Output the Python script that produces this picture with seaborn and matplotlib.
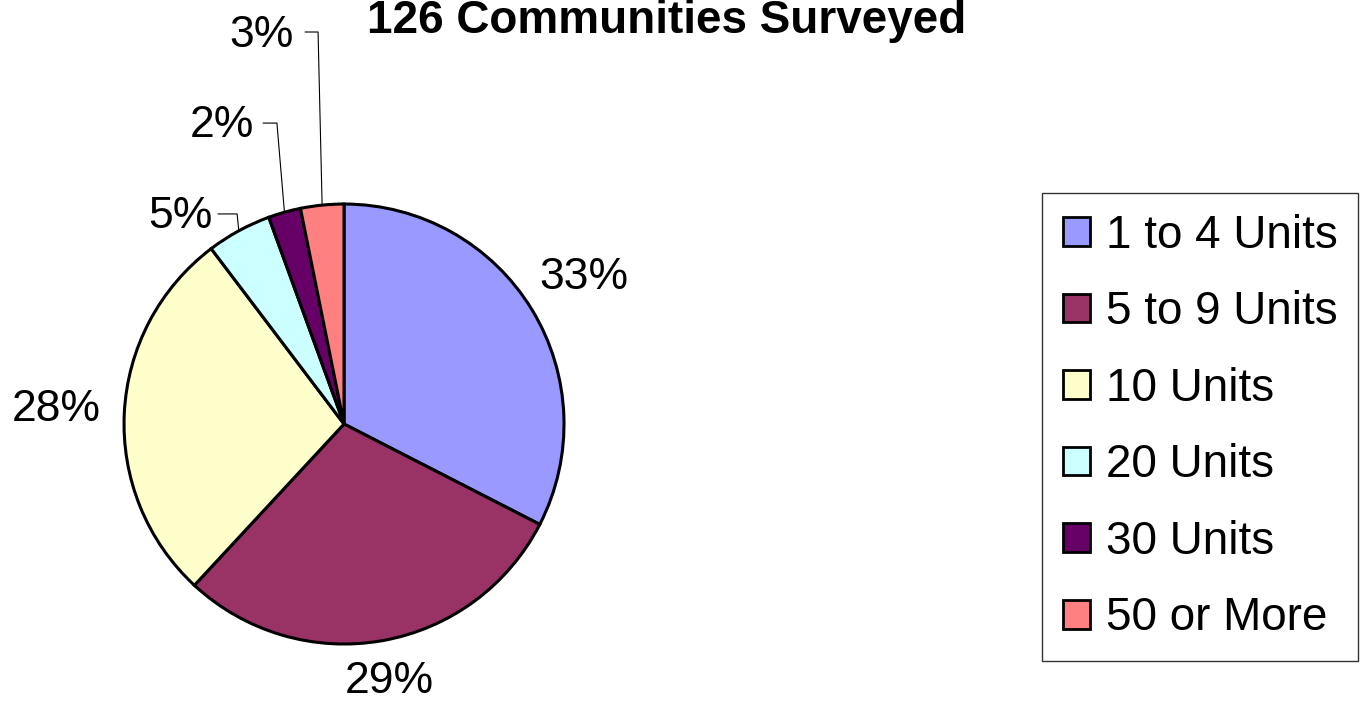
import numpy as np
import matplotlib
matplotlib.use("Agg")
import matplotlib.pyplot as plt
import seaborn as sns

# Data: communities by size (126 surveyed)
categories = ["1 to 4 Units", "5 to 9 Units", "10 Units", "20 Units", "30 Units", "50 or More"]
counts = [41, 37, 35, 6, 3, 4]
colors = ["#9999FF", "#993366", "#FFFFCC", "#CCFFFF", "#660066", "#FF8080"]
title = "126 Communities Surveyed"

sns.set_theme(style="white", rc={"text.color": "black"})
plt.rcParams["font.family"] = ["Liberation Sans", "DejaVu Sans"]

fig = plt.figure(figsize=(13.63, 7.06), dpi=100)
ax = fig.add_axes([0.091, 0.0878, 0.3228, 0.6232])

wedges, _ = ax.pie(counts, colors=colors, startangle=90, counterclock=False,
                   radius=1, wedgeprops=dict(edgecolor="black", linewidth=2.2))
ax.set_xlim(-1, 1)
ax.set_ylim(-1, 1)
ax.set_aspect("equal")
ax.axis("off")

pcts = [round(100 * c / sum(counts)) for c in counts]

# label layout: big wedges get radial labels, small ones get callouts
label_dist = [1.28, 1.19, 1.31]
callouts = {3: ((-0.745, 0.945), (-0.486, 0.955), (-0.573, 0.955)),
            4: ((-0.555, 1.359), (-0.305, 1.368), (-0.368, 1.368)),
            5: ((-0.373, 1.764), (-0.118, 1.782), (-0.177, 1.782))}

for i, w in enumerate(wedges):
    mid = np.deg2rad((w.theta1 + w.theta2) / 2)
    txt = f"{pcts[i]}%"
    if i < 3:
        r = label_dist[i]
        ax.text(r * np.cos(mid), r * np.sin(mid), txt, ha="center", va="center",
                fontsize=32, color="black", clip_on=False)
    else:
        (tx, ty), (ex, ey), (hx, hy) = callouts[i]
        ax.text(tx, ty, txt, ha="center", va="center", fontsize=32,
                color="black", clip_on=False)
        ax.plot([np.cos(mid), ex, hx], [np.sin(mid), ey, hy], color="black",
                linewidth=0.8, clip_on=False)

fig.text(667 / 1363, 1 - 33 / 706, title, ha="center", va="baseline",
         fontsize=33, fontweight="bold", color="black")

leg = fig.legend(wedges, categories, loc="upper left",
                 bbox_to_anchor=(1042 / 1363, 1 - 193 / 706),
                 fontsize=33, frameon=True, fancybox=False, shadow=False,
                 handlelength=0.59, handleheight=0.59, handletextpad=0.35,
                 labelspacing=0.71, borderpad=0.45, borderaxespad=0)
leg.get_frame().set_edgecolor("black")
leg.get_frame().set_linewidth(1)
for t in leg.get_texts():
    t.set_color("black")
for h in leg.legend_handles:
    h.set_edgecolor("black")
    h.set_linewidth(2)

fig.savefig("out.png", dpi=100)
